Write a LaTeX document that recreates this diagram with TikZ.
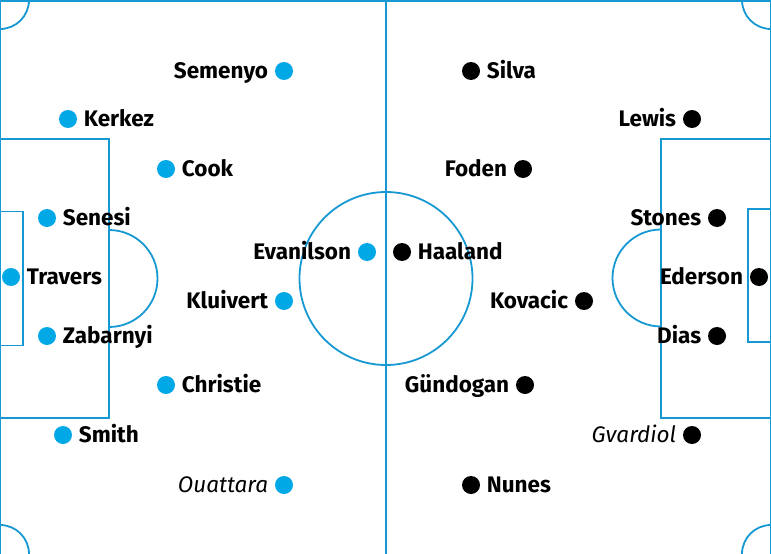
\documentclass[tikz,border=0pt]{standalone}
\usepackage{fontspec}
\setmainfont{Fira Sans}
\usepackage{tikz}
\usetikzlibrary{positioning}
\definecolor{pitchblue}{RGB}{22,152,210}
\definecolor{bouncyan}{RGB}{0,168,230}

\begin{document}
\begin{tikzpicture}[
  x=1pt, y=-1pt,
  font=\fontsize{22.5}{26}\selectfont,
  pitch/.style={draw=pitchblue, line width=1.8pt},
  dot/.style={circle, inner sep=0pt, minimum size=18pt},
  bou/.style={dot, fill=bouncyan},
  mci/.style={dot, fill=black},
  pname/.style={inner xsep=0pt, inner ysep=0pt, text height=15.5pt, text depth=0pt, font=\fontsize{22.5}{26}\selectfont\bfseries},
  doubt/.style={pname, font=\fontsize{22.5}{26}\selectfont\itshape},
  node distance=6.5pt
]
\useasboundingbox (0,0) rectangle (771,554);
% pitch
\draw[pitch] (0,0.9) rectangle (771,600);
\draw[pitch] (386,0) -- (386,554);
\draw[pitch] (386,278.5) circle (86.5pt);
\foreach \cx/\cy in {0/0, 771/0, 0/554, 771/554}
  \draw[pitch] (\cx,\cy) circle (29pt);
\draw[pitch] (0,139) rectangle (109,418);
\draw[pitch] (0,211.5) rectangle (23,345.5);
\draw[pitch] (109,230) arc[start angle=90, end angle=-90, radius=48.5pt];
\draw[pitch] (661,139) rectangle (771,418);
\draw[pitch] (748,209) rectangle (771,342);
\draw[pitch] (661,229.5) arc[start angle=90, end angle=270, radius=48.5pt];

% Bournemouth
\node[bou] (semenyo) at (284,71) {};
\node[pname, left=of semenyo] {Semenyo};
\node[bou] (kerkez) at (68,119) {};
\node[pname, right=of kerkez] {Kerkez};
\node[bou] (cook) at (166,169) {};
\node[pname, right=of cook] {Cook};
\node[bou] (senesi) at (47,218) {};
\node[pname, right=of senesi] {Senesi};
\node[bou] (evanilson) at (367,252) {};
\node[pname, left=of evanilson] {Evanilson};
\node[bou] (travers) at (11,277) {};
\node[pname, right=of travers] {Travers};
\node[bou] (kluivert) at (284,301) {};
\node[pname, left=of kluivert] {Kluivert};
\node[bou] (zabarnyi) at (47,336) {};
\node[pname, right=of zabarnyi] {Zabarnyi};
\node[bou] (christie) at (166,385) {};
\node[pname, right=of christie] {Christie};
\node[bou] (smith) at (63,435) {};
\node[pname, right=of smith] {Smith};
\node[bou] (ouattara) at (284,485) {};
\node[doubt, left=of ouattara] {Ouattara};

% Man City
\node[mci] (silva) at (471,71) {};
\node[pname, right=of silva] {Silva};
\node[mci] (lewis) at (692,119) {};
\node[pname, left=of lewis] {Lewis};
\node[mci] (foden) at (523,169) {};
\node[pname, left=of foden] {Foden};
\node[mci] (stones) at (717,218) {};
\node[pname, left=of stones] {Stones};
\node[mci] (haaland) at (402,252) {};
\node[pname, right=of haaland] {Haaland};
\node[mci] (ederson) at (759,277) {};
\node[pname, left=of ederson] {Ederson};
\node[mci] (kovacic) at (584,301) {};
\node[pname, left=of kovacic] {Kovacic};
\node[mci] (dias) at (717,336) {};
\node[pname, left=of dias] {Dias};
\node[mci] (gundogan) at (525,385) {};
\node[pname, left=of gundogan] {Gündogan};
\node[mci] (gvardiol) at (692,435) {};
\node[doubt, left=of gvardiol] {Gvardiol};
\node[mci] (nunes) at (471,485) {};
\node[pname, right=of nunes] {Nunes};
\end{tikzpicture}
\end{document}
